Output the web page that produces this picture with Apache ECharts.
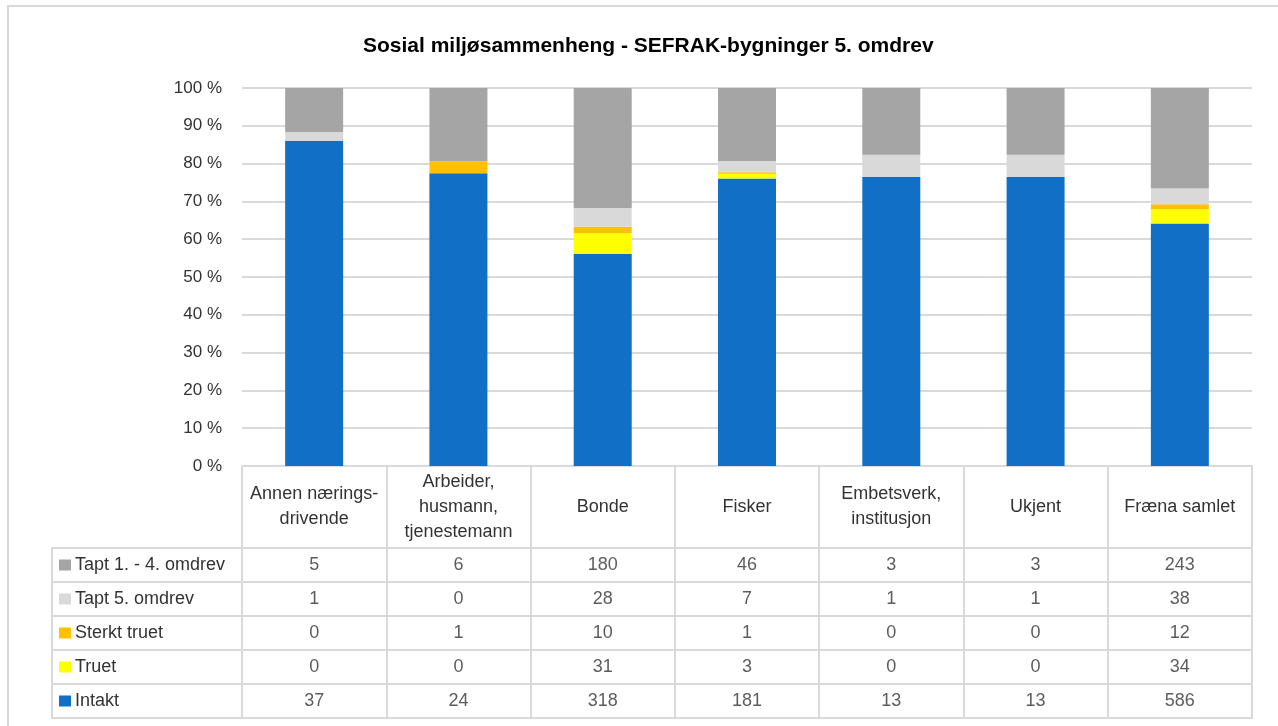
<!DOCTYPE html>
<html>
<head>
<meta charset="utf-8">
<script src="https://cdn.jsdelivr.net/npm/echarts@6/dist/echarts.min.js"></script>
<style>
  html, body { margin: 0; padding: 0; background: #fff; }
  #chart { width: 1278px; height: 726px; }
</style>
</head>
<body>
<div id="chart"></div>
<script>
// kategorier og antall bygninger per status
var categories = ['Annen nærings-\ndrivende', 'Arbeider,\nhusmann,\ntjenestemann', 'Bonde', 'Fisker', 'Embetsverk,\ninstitusjon', 'Ukjent', 'Fræna samlet'];
var intakt      = [37, 24, 318, 181, 13, 13, 586];
var truet       = [0, 0, 31, 3, 0, 0, 34];
var sterktTruet = [0, 1, 10, 1, 0, 0, 12];
var tapt5       = [1, 0, 28, 7, 1, 1, 38];
var tapt14      = [5, 6, 180, 46, 3, 3, 243];
var yTicks = [0, 10, 20, 30, 40, 50, 60, 70, 80, 90, 100];

var seriesNames  = ['Intakt', 'Truet', 'Sterkt truet', 'Tapt 5. omdrev', 'Tapt 1. - 4. omdrev'];
var seriesData   = [intakt, truet, sterktTruet, tapt5, tapt14];
var seriesColors = ['#1170C6', '#FFFF00', '#FFC000', '#D9D9D9', '#A5A5A5'];

var FONT = 'Liberation Sans';
var TXT = '#333333';
var LINE = '#D9D9D9';

var totals = categories.map(function (c, i) {
  var s = 0;
  seriesData.forEach(function (d) { s += d[i]; });
  return s;
});

var series = [];
seriesData.forEach(function (d, k) {
  // stolper i prosent
  series.push({
    name: seriesNames[k],
    type: 'bar',
    stack: 'a',
    barWidth: 58,
    xAxisIndex: 0,
    yAxisIndex: 0,
    itemStyle: { color: seriesColors[k] },
    data: d.map(function (v, i) { return v / totals[i] * 100; })
  });
  // tall i tabellen
  series.push({
    type: 'scatter',
    xAxisIndex: 1,
    yAxisIndex: 1,
    symbolSize: 0,
    silent: true,
    label: {
      show: true,
      position: 'inside',
      color: TXT,
      fontFamily: FONT,
      fontSize: 18,
      formatter: function (p) { return p.value[2]; }
    },
    data: d.map(function (v, i) { return [categories[i], seriesNames[k], v]; })
  });
});

var rich = { t: { fontFamily: FONT, fontSize: 18, color: TXT, padding: [0, 0, 0, 4] } };
seriesColors.forEach(function (c, k) {
  rich['s' + k] = { width: 12, height: 11, backgroundColor: c };
});

var myChart = echarts.init(document.getElementById('chart'));
myChart.setOption({
  animation: false,
  title: {
    text: 'Sosial miljøsammenheng - SEFRAK-bygninger 5. omdrev',
    left: 358,
    top: 31,
    textStyle: { fontFamily: FONT, fontSize: 21, fontWeight: 'bold', color: '#000' }
  },
  graphic: [{
    type: 'rect',
    shape: { x: 8, y: 6, width: 1290, height: 740 },
    style: { fill: 'none', stroke: LINE, lineWidth: 2 },
    silent: true
  }],
  grid: [
    { left: 242, right: 26, top: 88, bottom: 260 },
    { left: 242, right: 26, top: 548, bottom: 8, show: true, borderColor: LINE, borderWidth: 2 }
  ],
  xAxis: [{
    gridIndex: 0,
    type: 'category',
    data: categories,
    axisLine: { lineStyle: { color: LINE, width: 2 } },
    axisTick: { show: true, interval: 0, length: 252, lineStyle: { color: LINE, width: 2 } },
    axisLabel: {
      interval: 0,
      margin: 41,
      verticalAlign: 'middle',
      color: TXT,
      fontFamily: FONT,
      fontSize: 18,
      lineHeight: 25
    }
  }, {
    gridIndex: 1,
    type: 'category',
    data: categories,
    axisLine: { show: false },
    axisTick: { show: false },
    axisLabel: { show: false },
    splitLine: { show: true, interval: 0, lineStyle: { color: LINE, width: 2 } }
  }],
  yAxis: [{
    gridIndex: 0,
    type: 'value',
    min: 0,
    max: 100,
    interval: 10,
    axisLine: { show: false },
    axisTick: { show: false },
    axisLabel: {
      margin: 20,
      color: TXT,
      fontFamily: FONT,
      fontSize: 17,
      formatter: function (v) { return yTicks.indexOf(v) >= 0 ? v + ' %' : ''; }
    },
    splitLine: { lineStyle: { color: LINE, width: 2 } }
  }, {
    gridIndex: 1,
    type: 'category',
    data: seriesNames,
    axisLine: { show: false },
    axisTick: { show: true, interval: 0, length: 190, lineStyle: { color: LINE, width: 2 } },
    splitLine: { show: true, interval: 0, lineStyle: { color: LINE, width: 2 } },
    axisLabel: {
      interval: 0,
      align: 'left',
      margin: 183,
      formatter: function (v) {
        var k = seriesNames.indexOf(v);
        return '{s' + k + '|}{t|' + v + '}';
      },
      rich: rich
    }
  }, {
    gridIndex: 1,
    type: 'category',
    data: seriesNames,
    position: 'left',
    offset: 190,
    axisLine: { show: true, lineStyle: { color: LINE, width: 2 } },
    axisTick: { show: false },
    axisLabel: { show: false }
  }],
  series: series
});
</script>
</body>
</html>
